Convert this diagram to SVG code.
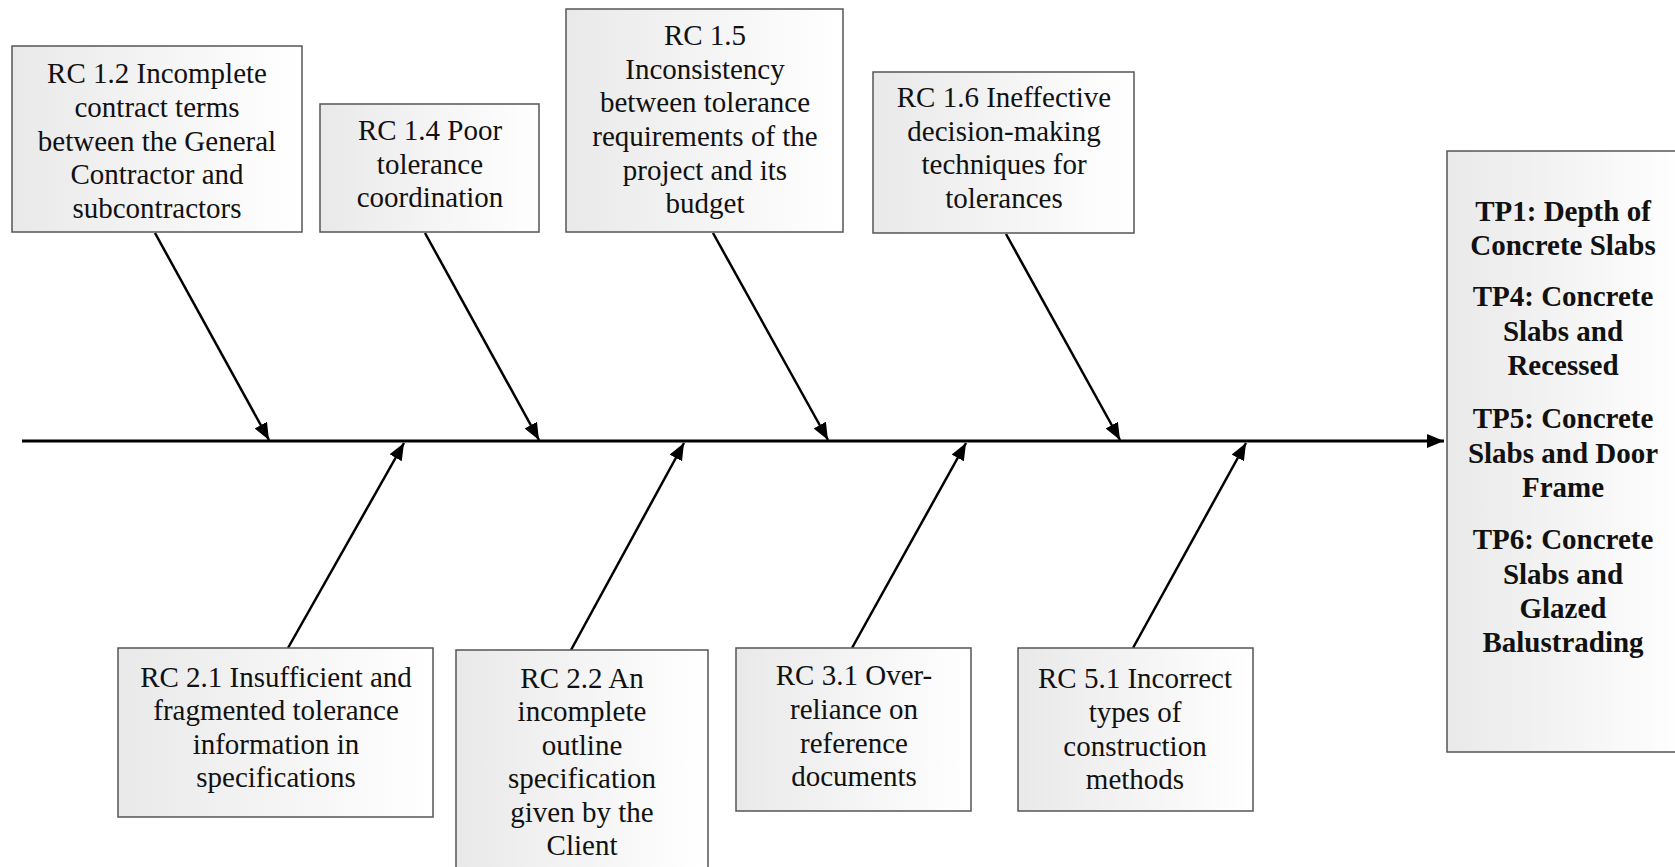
<svg xmlns="http://www.w3.org/2000/svg" width="1675" height="867" viewBox="0 0 1675 867">
<defs>
<linearGradient id="boxfill" x1="0" y1="0" x2="1" y2="0">
<stop offset="0" stop-color="#e9e9e9"/>
<stop offset="1" stop-color="#ffffff"/>
</linearGradient>
<marker id="arrow" markerUnits="userSpaceOnUse" markerWidth="18" markerHeight="15" refX="17" refY="7" orient="auto">
<path d="M0,0 L17,7 L0,14 z" fill="#000"/>
</marker>
</defs>
<style>
.box{fill:url(#boxfill);stroke:#555;stroke-width:1.5}
.t{font-family:"Liberation Serif","Times New Roman",serif;font-size:29px;fill:#111;text-anchor:middle}
.tb{font-family:"Liberation Serif","Times New Roman",serif;font-size:29px;font-weight:bold;fill:#111;text-anchor:middle}
.br{stroke:#000;stroke-width:2.5;fill:none;marker-end:url(#arrow)}
.sp{stroke:#000;stroke-width:3;fill:none;marker-end:url(#arrow)}
</style>
<rect width="1675" height="867" fill="#fff"/>

<g id="connectors">
<line class="sp" x1="22" y1="441" x2="1444" y2="441"/>
<line class="br" x1="155" y1="233" x2="269" y2="440"/>
<line class="br" x1="425" y1="233" x2="539" y2="440"/>
<line class="br" x1="713" y1="233" x2="828" y2="440"/>
<line class="br" x1="1006" y1="234" x2="1120" y2="440"/>
<line class="br" x1="288" y1="648" x2="404" y2="443"/>
<line class="br" x1="571" y1="650" x2="684" y2="443"/>
<line class="br" x1="852" y1="648" x2="966" y2="443"/>
<line class="br" x1="1133" y1="648" x2="1246" y2="443"/>
</g>

<g id="rc12">
<rect class="box" x="12" y="46" width="290" height="186"/>
<text class="t" x="157" y="83">RC 1.2 Incomplete</text>
<text class="t" x="157" y="117">contract terms</text>
<text class="t" x="157" y="151">between the General</text>
<text class="t" x="157" y="184">Contractor and</text>
<text class="t" x="157" y="218">subcontractors</text>
</g>

<g id="rc14">
<rect class="box" x="320" y="104" width="219" height="128"/>
<text class="t" x="430" y="140">RC 1.4 Poor</text>
<text class="t" x="430" y="174">tolerance</text>
<text class="t" x="430" y="207">coordination</text>
</g>

<g id="rc15">
<rect class="box" x="566" y="9" width="277" height="223"/>
<text class="t" x="705" y="45">RC 1.5</text>
<text class="t" x="705" y="79">Inconsistency</text>
<text class="t" x="705" y="112">between tolerance</text>
<text class="t" x="705" y="146">requirements of the</text>
<text class="t" x="705" y="180">project and its</text>
<text class="t" x="705" y="213">budget</text>
</g>

<g id="rc16">
<rect class="box" x="873" y="72" width="261" height="161"/>
<text class="t" x="1004" y="107">RC 1.6 Ineffective</text>
<text class="t" x="1004" y="141">decision-making</text>
<text class="t" x="1004" y="174">techniques for</text>
<text class="t" x="1004" y="208">tolerances</text>
</g>

<g id="rc21">
<rect class="box" x="118" y="648" width="315" height="169"/>
<text class="t" x="276" y="687">RC 2.1 Insufficient and</text>
<text class="t" x="276" y="720">fragmented tolerance</text>
<text class="t" x="276" y="754">information in</text>
<text class="t" x="276" y="787">specifications</text>
</g>

<g id="rc22">
<rect class="box" x="456" y="650" width="252" height="230"/>
<text class="t" x="582" y="688">RC 2.2 An</text>
<text class="t" x="582" y="721">incomplete</text>
<text class="t" x="582" y="755">outline</text>
<text class="t" x="582" y="788">specification</text>
<text class="t" x="582" y="822">given by the</text>
<text class="t" x="582" y="855">Client</text>
</g>

<g id="rc31">
<rect class="box" x="736" y="648" width="235" height="163"/>
<text class="t" x="854" y="685">RC 3.1 Over-</text>
<text class="t" x="854" y="719">reliance on</text>
<text class="t" x="854" y="753">reference</text>
<text class="t" x="854" y="786">documents</text>
</g>

<g id="rc51">
<rect class="box" x="1018" y="648" width="235" height="163"/>
<text class="t" x="1135" y="688">RC 5.1 Incorrect</text>
<text class="t" x="1135" y="722">types of</text>
<text class="t" x="1135" y="756">construction</text>
<text class="t" x="1135" y="789">methods</text>
</g>

<g id="tp">
<rect class="box" x="1447" y="151" width="240" height="601"/>
<text class="tb" x="1563" y="221">TP1: Depth of</text>
<text class="tb" x="1563" y="255">Concrete Slabs</text>
<text class="tb" x="1563" y="306">TP4: Concrete</text>
<text class="tb" x="1563" y="341">Slabs and</text>
<text class="tb" x="1563" y="375">Recessed</text>
<text class="tb" x="1563" y="428">TP5: Concrete</text>
<text class="tb" x="1563" y="463">Slabs and Door</text>
<text class="tb" x="1563" y="497">Frame</text>
<text class="tb" x="1563" y="549">TP6: Concrete</text>
<text class="tb" x="1563" y="584">Slabs and</text>
<text class="tb" x="1563" y="618">Glazed</text>
<text class="tb" x="1563" y="652">Balustrading</text>
</g>
</svg>
